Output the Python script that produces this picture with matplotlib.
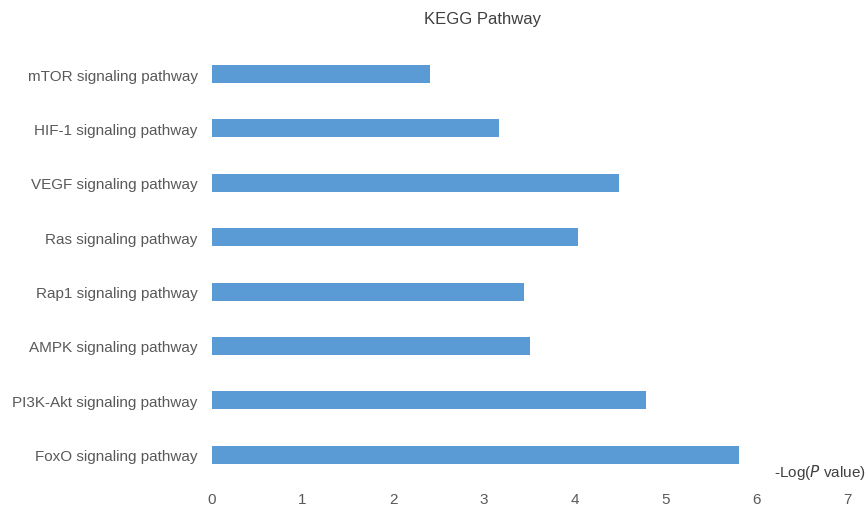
import matplotlib.pyplot as plt

plt.rcParams["font.family"] = ["Liberation Sans", "DejaVu Sans"]

pathways = ["FoxO signaling pathway", "PI3K-Akt signaling pathway", "AMPK signaling pathway",
            "Rap1 signaling pathway", "Ras signaling pathway", "VEGF signaling pathway",
            "HIF-1 signaling pathway", "mTOR signaling pathway"]
neg_log_p = [5.81, 4.79, 3.51, 3.44, 4.04, 4.49, 3.17, 2.41]
xticks = [0, 1, 2, 3, 4, 5, 6, 7]

fig = plt.figure(figsize=(8.67, 5.06), dpi=100)
ax = fig.add_axes([0.2442, 0.0455, 0.7327, 0.860])

ax.barh(range(len(pathways)), neg_log_p, height=0.33, color="#5B9BD5")
ax.set_yticks(range(len(pathways)))
ax.set_yticklabels(pathways)
ax.set_ylim(-0.5, len(pathways) - 0.5)
ax.set_xlim(0, 7)
ax.set_xticks(xticks)
ax.tick_params(axis="both", length=0, labelsize=11, colors="#595959")
ax.tick_params(axis="y", pad=10)
ax.tick_params(axis="x", pad=7)
for s in ax.spines.values():
    s.set_visible(False)

fig.text(0.556, 0.962, "KEGG Pathway", ha="center", va="center", fontsize=12, color="#404040")
fig.text(0.998, 0.067, r"-Log($\it{P}$ value)", ha="right", va="center", fontsize=11, color="#404040")

fig.savefig("out.png", dpi=100)
